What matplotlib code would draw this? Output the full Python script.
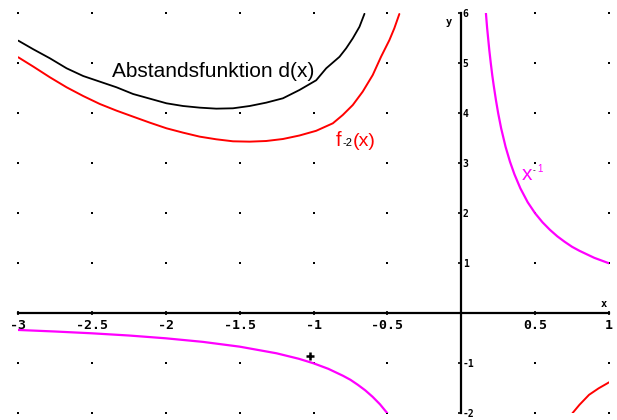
import matplotlib
matplotlib.use("Agg")
import matplotlib.pyplot as plt

# ---- data ----
x_ticks = [-3, -2.5, -2, -1.5, -1, -0.5, 0.5, 1]
x_tick_labels = ["-3", "-2.5", "-2", "-1.5", "-1", "-0.5", "0.5", "1"]
y_ticks = [-2, -1, 1, 2, 3, 4, 5, 6]
y_tick_labels = ["-2", "-1", "1", "2", "3", "4", "5", "6"]

# Abstandsfunktion d(x) (black)
d_x = [-2.998, -2.896, -2.784, -2.671, -2.559, -2.446, -2.333, -2.221, -2.108,
       -1.995, -1.883, -1.770, -1.658, -1.545, -1.432, -1.320, -1.207, -1.095,
       -0.982, -0.914, -0.824, -0.779, -0.734, -0.689, -0.655]
d_y = [5.453, 5.28, 5.10, 4.90, 4.746, 4.633, 4.52, 4.386, 4.293,
       4.20, 4.146, 4.113, 4.093, 4.10, 4.146, 4.213, 4.30, 4.466,
       4.66, 4.90, 5.13, 5.30, 5.50, 5.73, 5.99]

# f_-2(x) (red), left part
f_left_x = [-2.998, -2.896, -2.784, -2.671, -2.559, -2.446, -2.333, -2.221,
            -2.108, -1.995, -1.883, -1.770, -1.658, -1.545, -1.432, -1.320,
            -1.207, -1.095, -0.982, -0.869, -0.802, -0.734, -0.667, -0.599,
            -0.543, -0.486, -0.453, -0.419]
f_left_y = [5.12, 4.933, 4.72, 4.52, 4.346, 4.186, 4.053, 3.933,
            3.813, 3.70, 3.613, 3.533, 3.48, 3.44, 3.433, 3.446,
            3.486, 3.556, 3.65, 3.80, 3.966, 4.166, 4.433, 4.766,
            5.13, 5.466, 5.70, 5.986]
# f_-2(x) (red), right part
f_right_x = [0.752, 0.80, 0.865, 0.93, 0.989, 1.0]
f_right_y = [-2.0, -1.83, -1.63, -1.50, -1.40, -1.38]

# x^-1 (magenta)
h_right_x = [0.167, 0.175, 0.19, 0.2, 0.21, 0.22, 0.235, 0.25, 0.27, 0.3,
             0.33, 0.36, 0.4, 0.45, 0.5, 0.55, 0.6, 0.65, 0.7, 0.75, 0.8,
             0.9, 1.0]
h_right_y = [6.0, 5.71, 5.26, 5.0, 4.76, 4.55, 4.26, 4.0, 3.70, 3.33,
             3.03, 2.78, 2.5, 2.22, 2.0, 1.82, 1.67, 1.54, 1.43, 1.33, 1.25,
             1.11, 1.0]
h_left_x = [-3.0, -2.75, -2.5, -2.25, -2.0, -1.75, -1.5, -1.25, -1.1, -1.0,
            -0.9, -0.8, -0.75, -0.7, -0.65, -0.6, -0.55, -0.5]
h_left_y = [-0.333, -0.364, -0.4, -0.444, -0.5, -0.571, -0.667, -0.8, -0.909,
            -1.0, -1.11, -1.25, -1.33, -1.43, -1.54, -1.67, -1.82, -2.0]

# marked point
p_x = [-1.027]
p_y = [-0.845]

# ---- figure ----
fig = plt.figure(figsize=(6.17, 4.20), dpi=100)
ax = fig.add_axes([18 / 617, 6.7 / 420, 591 / 617, 400 / 420])
ax.set_xlim(-3, 1)
ax.set_ylim(-2, 6)

# grid dots
dots_x = [a for a in x_ticks for b in y_ticks]
dots_y = [b for a in x_ticks for b in y_ticks]
ax.plot(dots_x, dots_y, 's', color='black', ms=1.6, mew=0, zorder=1, clip_on=False)

# spines as axes through origin
for s in ['top', 'left']:
    ax.spines[s].set_visible(False)
ax.spines['bottom'].set_position(('data', 0))
ax.spines['right'].set_position(('data', 0))
ax.spines['bottom'].set_linewidth(1.6)
ax.spines['right'].set_linewidth(1.6)

ax.yaxis.tick_right()
ax.set_xticks(x_ticks)
ax.set_xticklabels(x_tick_labels)
ax.set_yticks(y_ticks)
ax.set_yticklabels(y_tick_labels)
ax.tick_params(axis='x', direction='inout', length=3.5, width=1.2, pad=2.0,
               labelsize=9.5)
ax.tick_params(axis='y', direction='in', length=2.5, width=1.2, pad=1.0,
               labelsize=7)
for lab in ax.get_xticklabels() + ax.get_yticklabels():
    lab.set_fontfamily('DejaVu Sans Mono')
    lab.set_fontweight('bold')

# curves
kw = dict(solid_joinstyle='round', solid_capstyle='round', zorder=3)
ax.plot(d_x, d_y, color='black', lw=1.3, **kw)
ax.plot(f_left_x, f_left_y, color='#ff0000', lw=1.4, **kw)
ax.plot(f_right_x, f_right_y, color='#ff0000', lw=1.4, **kw)
ax.plot(h_right_x, h_right_y, color='#ff00ff', lw=1.6, **kw)
ax.plot(h_left_x, h_left_y, color='#ff00ff', lw=1.6, **kw)
ax.plot(p_x, p_y, '+', color='black', ms=6, mew=1.8, zorder=4)

# labels
wb = dict(facecolor='white', edgecolor='none', pad=0.5)
ax.text(-2.365, 4.73, "Abstandsfunktion d(x)", fontsize=15,
        family='Liberation Sans', color='black', ha='left', va='baseline',
        bbox=wb, zorder=2)
ax.text(-0.847, 3.336, "f", fontsize=14.5, family='Liberation Sans',
        color='#ff0000', ha='left', va='baseline')
ax.text(-0.807, 3.336, "-2", fontsize=8, family='Liberation Sans',
        color='black', ha='left', va='baseline')
ax.text(-0.736, 3.336, "(x)", fontsize=14, family='Liberation Sans',
        color='#ff0000', ha='left', va='baseline')
ax.text(0.412, 2.666, "x", fontsize=15, family='Liberation Sans',
        color='#ff00ff', ha='left', va='baseline')
ax.text(0.484, 2.83, "-", fontsize=6, family='Liberation Sans',
        color='black', ha='left', va='baseline')
ax.text(0.512, 2.83, "1", fontsize=7, family='Liberation Sans',
        color='#ff00ff', ha='left', va='baseline')

ax.text(-0.081, 5.83, "y", fontsize=7.5, family='DejaVu Sans Mono',
        fontweight='bold', ha='center', va='center')
ax.text(0.966, 0.19, "x", fontsize=7.5, family='DejaVu Sans Mono',
        fontweight='bold', ha='center', va='center')

fig.savefig("out.png", dpi=100)
